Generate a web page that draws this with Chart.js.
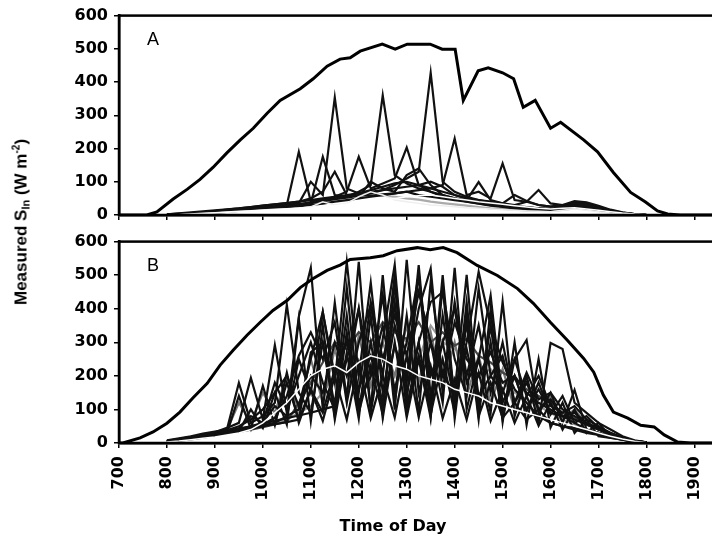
<!DOCTYPE html>
<html>
<head>
<meta charset="utf-8">
<script src="https://cdn.jsdelivr.net/npm/chart.js@4.4.1/dist/chart.umd.min.js"></script>
<style>
  html, body { margin: 0; padding: 0; background: #fff; overflow: hidden; }
  #wrap { position: relative; width: 712px; height: 535px; overflow: hidden; }
  #wrap canvas { position: absolute; left: 0; }
  #ytitle {
    position: absolute; left: 21px; top: 222px;
    transform: translate(-50%, -50%) rotate(-90deg);
    font: bold 17px "Liberation Sans", Arial, sans-serif; white-space: nowrap; color: #000;
  }
  #ytitle sub { font-size: 11px; vertical-align: -3px; }
  #ytitle sup { font-size: 10px; vertical-align: 7px; }
  #xtitle {
    position: absolute; left: 393px; top: 525px;
    transform: translate(-50%, -50%);
    font: bold 16px "DejaVu Sans", sans-serif; white-space: nowrap; color: #000;
  }
</style>
</head>
<body>
<div id="wrap">
  <canvas id="panelA" width="716" height="232" style="top:0"></canvas>
  <canvas id="panelB" width="716" height="309" style="top:226px"></canvas>
  <div id="ytitle">Measured S<sub>In</sub> (W m<sup>-2</sup>)</div>
  <div id="xtitle">Time of Day</div>
</div>
<script>
// Shortwave in, two panels (A, B): clear-sky envelope + individual sensor traces

const X_TICKS = [700, 800, 900, 1000, 1100, 1200, 1300, 1400, 1500, 1600, 1700, 1800, 1900];
const X_MAX = 1945;

// envelope curves (time of day, W m-2)
const A_ENV_TIME = [700, 758, 779, 813, 842, 869, 896, 925, 953, 980, 1009, 1036, 1078, 1105, 1134, 1161, 1182, 1203, 1249, 1276, 1301, 1349, 1374, 1401, 1418, 1449, 1470, 1500, 1523, 1543, 1568, 1600, 1621, 1669, 1698, 1731, 1767, 1798, 1823, 1844, 1870, 1945];
const A_ENV_VAL  = [0, 0, 9, 48, 77, 107, 143, 187, 226, 261, 306, 345, 380, 410, 448, 469, 473, 493, 514, 499, 514, 514, 499, 499, 345, 434, 443, 428, 410, 324, 345, 261, 279, 226, 190, 128, 68, 39, 12, 3, 0, 0];

const B_ENV_TIME = [700, 708, 744, 771, 800, 827, 854, 884, 911, 938, 967, 994, 1021, 1051, 1078, 1105, 1134, 1161, 1182, 1224, 1251, 1280, 1322, 1349, 1376, 1405, 1447, 1489, 1531, 1564, 1600, 1635, 1669, 1690, 1710, 1731, 1761, 1788, 1816, 1837, 1865, 1892, 1945];
const B_ENV_VAL  = [0, 0, 15, 33, 59, 92, 134, 178, 232, 276, 321, 359, 395, 425, 463, 490, 514, 530, 547, 552, 558, 573, 582, 576, 582, 567, 529, 499, 460, 416, 359, 306, 252, 211, 143, 92, 74, 53, 48, 24, 3, 0, 0];

// sample times for individual traces (15 min)
const SAMPLE_TIMES = [800, 825, 850, 875, 900, 925, 950, 975, 1000, 1025, 1050, 1075, 1100, 1125, 1150, 1175, 1200, 1225, 1250, 1275, 1300, 1325, 1350, 1375, 1400, 1425, 1450, 1475, 1500, 1525, 1550, 1575, 1600, 1625, 1650, 1675, 1700, 1725, 1750, 1775, 1800];

// panel A traces
const A_SITES = [
  [2,4,6,8,12,15,18,20,22,25,30,190,40,45,50,55,60,58,62,65,70,60,55,50,45,40,35,30,28,25,22,20,18,20,22,18,14,10,6,3,1],
  [1,3,5,7,10,13,16,19,22,26,30,35,100,60,354,80,65,70,75,80,85,90,70,60,50,42,36,30,26,22,20,18,16,25,35,30,20,12,6,2,0],
  [0,2,4,6,9,12,15,18,20,22,25,28,35,175,60,55,70,90,360,120,95,80,70,55,48,40,34,28,24,20,18,16,15,18,24,22,16,10,5,2,0],
  [1,3,5,8,11,14,17,20,23,26,30,33,38,42,48,52,58,65,75,90,110,130,428,100,70,55,45,38,32,27,24,20,18,22,30,26,18,11,6,2,0],
  [0,2,4,6,8,10,13,16,19,22,25,30,35,45,55,70,175,80,95,110,203,90,100,85,60,50,40,34,30,26,22,20,18,22,28,24,16,10,5,2,0],
  [0,1,3,5,7,9,12,15,18,20,23,26,30,34,40,45,50,55,60,65,70,75,80,90,230,60,70,50,155,45,40,30,25,28,38,34,24,14,7,3,0],
  [1,3,6,9,12,16,20,24,28,32,36,40,50,70,130,60,55,100,80,70,120,140,90,60,50,45,99,45,35,30,40,75,35,30,32,28,20,12,6,2,0],
  [2,5,8,11,14,17,20,24,28,32,36,40,45,50,55,60,65,75,85,95,100,90,80,70,60,50,45,40,35,60,42,30,25,30,42,38,28,16,8,3,0],
  [0,2,4,6,9,12,15,18,21,24,28,32,36,42,48,55,60,62,58,55,50,46,40,36,32,28,24,20,18,16,14,13,12,15,20,18,12,8,4,2,0],
  [0,1,2,4,6,8,10,12,14,16,18,20,22,25,28,32,36,40,45,50,55,58,60,55,50,45,40,36,32,28,24,20,18,20,22,18,14,10,6,3,1],
  [0,1,3,5,7,9,11,13,15,17,19,21,24,40,30,35,55,70,60,45,40,35,30,28,25,22,20,18,16,14,12,11,10,14,18,14,10,6,3,1,0]
];
const A_COLORS = ['#111','#111','#111','#111','#111','#111','#111','#111','#aaa','#fff','#eee'];

// panel B traces
const B_SITES = [
  [8,14,20,28,34,40,179,60,80,120,412,150,90,300,110,463,120,200,442,100,546,150,300,120,522,100,250,90,421,80,200,60,298,280,120,90,60,40,20,8,2],
  [6,12,18,25,32,45,60,194,70,292,90,376,522,100,418,130,540,90,310,531,120,510,80,380,150,501,100,300,70,250,307,90,150,60,158,40,30,20,12,5,1],
  [5,10,16,22,30,38,50,70,100,150,200,110,250,391,180,540,200,478,150,350,200,400,520,150,420,200,350,150,300,120,180,100,130,80,90,60,40,25,12,5,1],
  [4,9,14,20,28,36,44,80,60,110,80,250,150,390,200,300,150,420,250,380,260,450,300,200,360,250,200,270,180,200,150,120,100,80,70,55,40,28,15,6,2],
  [6,11,16,22,28,34,40,48,55,75,140,260,330,250,360,120,300,410,200,500,150,300,420,450,250,140,460,200,260,120,210,130,150,100,80,60,45,30,15,6,2],
  [5,10,15,20,26,32,38,46,52,60,80,100,200,150,300,200,400,100,500,120,380,90,480,200,150,300,510,350,240,160,120,80,60,50,40,30,24,16,10,4,1],
  [5,9,14,19,25,30,36,42,50,56,62,70,160,90,220,300,160,260,120,290,180,530,140,300,120,390,140,200,150,250,140,200,110,90,110,70,50,30,16,6,2],
  [6,11,16,22,28,34,42,50,60,180,100,200,300,180,100,250,400,200,350,160,300,500,200,300,400,180,250,440,120,200,100,160,90,80,60,40,30,20,12,5,1],
  [6,12,17,23,29,35,42,50,58,66,74,82,90,100,110,380,95,300,105,420,110,260,115,500,120,280,110,350,100,200,95,180,85,140,60,80,45,30,15,6,2],
  [5,10,15,21,27,33,39,45,52,58,180,70,270,300,80,330,90,230,85,480,90,300,85,250,90,420,80,180,75,120,70,100,60,50,45,35,25,18,10,4,1],
  [4,8,12,17,22,28,35,100,45,150,55,370,65,350,70,270,72,380,74,300,76,250,75,470,72,360,70,400,62,300,54,250,46,120,30,70,20,15,10,5,2],
  [5,9,13,18,24,29,140,42,170,53,210,60,160,66,200,70,240,74,200,76,260,77,230,74,190,70,210,66,160,60,140,52,120,40,100,30,60,18,10,4,1],
  [3,7,11,16,21,27,33,40,47,55,63,120,180,240,300,280,330,300,360,330,310,360,300,330,290,310,260,240,210,190,160,140,120,90,75,55,40,28,16,6,2],
  [7,12,18,24,30,38,120,60,150,90,200,100,250,120,280,150,320,170,300,200,350,180,330,160,300,140,260,120,220,100,180,90,140,70,100,55,40,25,12,5,1],
  [4,8,13,18,24,30,36,44,52,60,70,90,110,150,200,250,200,300,250,350,300,250,350,300,280,250,200,220,180,150,130,110,90,70,55,40,30,20,12,5,1],
  [3,6,10,14,18,24,30,40,60,90,120,160,200,220,230,210,240,260,250,230,220,200,190,180,160,150,140,120,110,100,90,80,70,60,50,40,30,20,12,5,1]
];
const B_COLORS = ['#111','#111','#111','#111','#111','#111','#111','#111','#111','#111','#111','#111','#444','#777','#999','#fff'];

const TICK_FONT = { family: '"DejaVu Sans", sans-serif', size: 16, weight: 'bold' };

// frame round the plot area + panel letter
const panelDecor = {
  id: 'panelDecor',
  afterDraw(chart, args, opts) {
    const { ctx, chartArea: a } = chart;
    ctx.save();
    ctx.lineWidth = 2.5;
    ctx.strokeStyle = '#000';
    ctx.strokeRect(a.left, a.top, a.right - a.left, a.bottom - a.top);
    ctx.fillStyle = '#000';
    ctx.font = '18px "Liberation Sans", Arial, sans-serif';
    ctx.textBaseline = 'top';
    ctx.fillText(opts.letter, a.left + 28, a.top + 15);
    ctx.restore();
  }
};

function toPoints(times, vals) {
  return vals.map((v, i) => ({ x: times[i], y: v }));
}

function makePanel(canvasId, letter, envT, envV, sites, colors, showXLabels, areaBottom) {
  const canvas = document.getElementById(canvasId);
  const datasets = [{
    data: toPoints(envT, envV),
    borderColor: '#000', borderWidth: 3, pointRadius: 0, tension: 0, order: 0
  }];
  sites.forEach((vals, i) => {
    const white = colors[i] === '#fff' || colors[i] === '#eee';
    datasets.push({
      data: toPoints(SAMPLE_TIMES, vals),
      borderColor: colors[i], borderWidth: white ? 1.5 : 2.2,
      pointRadius: 0, tension: 0, order: white ? 1 : 2
    });
  });

  return new Chart(canvas.getContext('2d'), {
    type: 'line',
    data: { datasets },
    plugins: [panelDecor],
    options: {
      responsive: false,
      animation: false,
      layout: { padding: { top: 14, left: 0, right: 0, bottom: 0 } },
      plugins: {
        legend: { display: false },
        tooltip: { enabled: false },
        panelDecor: { letter }
      },
      scales: {
        x: {
          type: 'linear', min: 700, max: X_MAX,
          afterBuildTicks: s => { s.ticks = X_TICKS.map(v => ({ value: v })); },
          afterFit: s => {
            s.height = canvas.height - areaBottom;
            s.paddingLeft = 0;
            s.paddingRight = 0;
          },
          ticks: {
            display: showXLabels, autoSkip: false, minRotation: 90, maxRotation: 90,
            padding: 8, color: '#000', font: TICK_FONT,
            callback: v => String(v)
          },
          grid: { drawOnChartArea: false, drawTicks: true, tickLength: 5, color: '#000', lineWidth: 1.5 },
          border: { display: true, color: '#000', width: 2.5 }
        },
        y: {
          min: 0, max: 600,
          afterFit: s => { s.width = 119; },
          ticks: { stepSize: 100, padding: 6, color: '#000', font: TICK_FONT },
          grid: { drawOnChartArea: false, drawTicks: true, tickLength: 5, color: '#000', lineWidth: 1.5 },
          border: { display: true, color: '#000', width: 2.5 }
        }
      }
    }
  });
}

makePanel('panelA', 'A', A_ENV_TIME, A_ENV_VAL, A_SITES, A_COLORS, false, 215);
makePanel('panelB', 'B', B_ENV_TIME, B_ENV_VAL, B_SITES, B_COLORS, true, 217);
</script>
</body>
</html>
